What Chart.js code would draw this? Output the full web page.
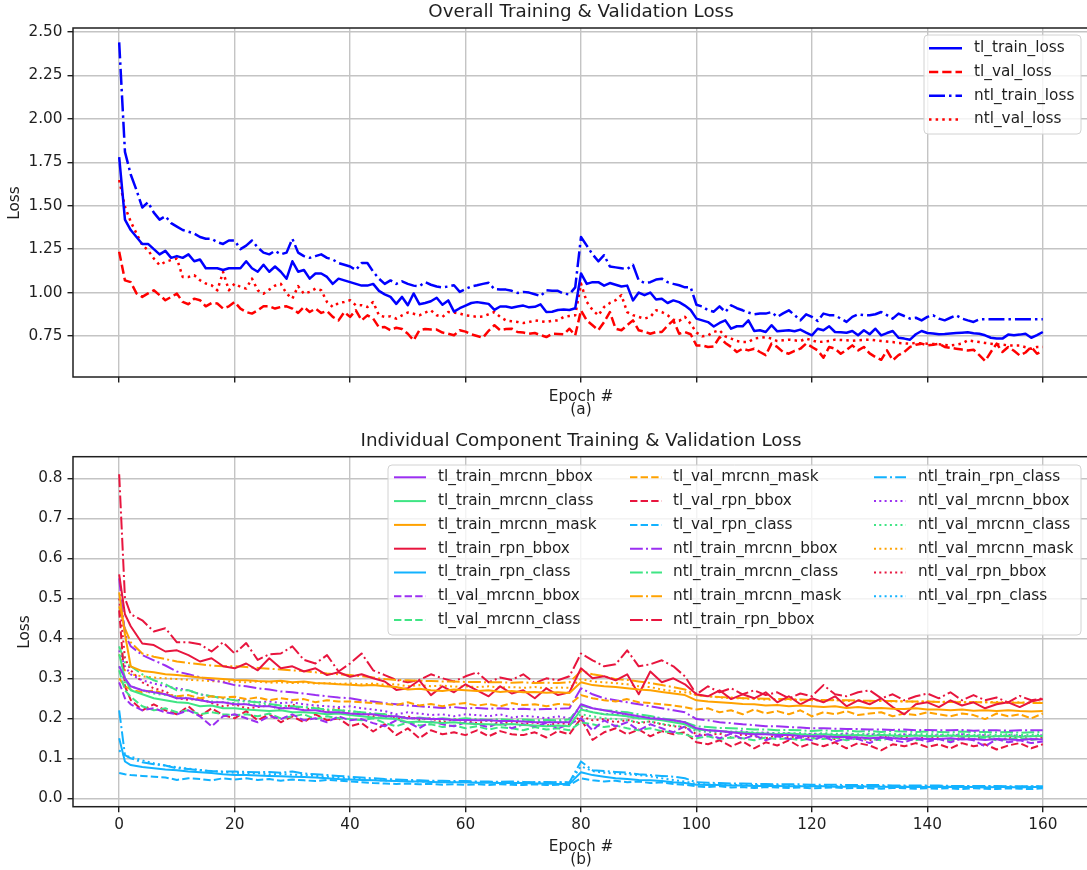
<!DOCTYPE html>
<html lang="en">
<head>
<meta charset="UTF-8">
<title>Training &amp; Validation Loss</title>
<style>
    html, body {
        margin: 0;
        padding: 0;
        background: #fff;
        overflow: hidden;
    }
    .panel { position: absolute; left: 0; }
    #panel-a { top: 0; }
    #panel-b { top: 420px; }
    canvas { display: block; }
</style>
</head>
<body>
<div class="panel" id="panel-a"><canvas id="overallChart" width="1092" height="420"></canvas></div>
<div class="panel" id="panel-b"><canvas id="componentChart" width="1092" height="450"></canvas></div>

<script src="https://cdn.jsdelivr.net/npm/chart.js@4"></script>
<script>
// ---- overall loss, one value per epoch (0..160) ----
const tlTrainLoss = [
    1.78, 1.42, 1.36, 1.32, 1.28, 1.28, 1.25, 1.22, 1.24, 1.20,
    1.21, 1.20, 1.22, 1.18, 1.19, 1.14, 1.14, 1.14, 1.13, 1.14,
    1.14, 1.14, 1.18, 1.14, 1.12, 1.16, 1.12, 1.15, 1.12, 1.08,
    1.18, 1.12, 1.13, 1.08, 1.11, 1.11, 1.09, 1.05, 1.08, 1.07,
    1.06, 1.05, 1.04, 1.04, 1.05, 1.01, 0.99, 0.975, 0.935, 0.975,
    0.927, 0.995, 0.933, 0.94, 0.95, 0.97, 0.93, 0.955, 0.89, 0.91,
    0.925, 0.94, 0.945, 0.94, 0.935, 0.90, 0.92, 0.92, 0.913, 0.92,
    0.925, 0.915, 0.918, 0.932, 0.888, 0.89, 0.90, 0.902, 0.90, 0.91,
    1.11, 1.05, 1.06, 1.06, 1.04, 1.055, 1.045, 1.035, 1.04, 0.955,
    1.00, 0.985, 1.00, 0.96, 0.965, 0.94, 0.955, 0.945, 0.925, 0.90,
    0.85, 0.84, 0.83, 0.805, 0.825, 0.84, 0.792, 0.806, 0.806, 0.84,
    0.779, 0.783, 0.773, 0.812, 0.777, 0.78, 0.783, 0.777, 0.787, 0.77,
    0.754, 0.792, 0.783, 0.806, 0.773, 0.772, 0.769, 0.779, 0.754, 0.783,
    0.76, 0.792, 0.754, 0.767, 0.779, 0.74, 0.735, 0.729, 0.76, 0.779,
    0.767, 0.765, 0.76, 0.762, 0.765, 0.767, 0.769, 0.771, 0.766, 0.763,
    0.754, 0.74, 0.735, 0.735, 0.758, 0.754, 0.758, 0.763, 0.74, 0.755,
    0.773
];
const tlValLoss = [
    1.235, 1.07, 1.06, 0.995, 0.975, 0.995, 1.013, 0.985, 0.956, 0.975,
    0.994, 0.946, 0.933, 0.965, 0.956, 0.921, 0.94, 0.937, 0.908, 0.921,
    0.946, 0.908, 0.888, 0.879, 0.898, 0.921, 0.921, 0.908, 0.917, 0.921,
    0.908, 0.883, 0.917, 0.888, 0.908, 0.883, 0.894, 0.86, 0.84, 0.888,
    0.86, 0.898, 0.84, 0.869, 0.85, 0.80, 0.802, 0.783, 0.798, 0.79,
    0.763, 0.725, 0.783, 0.79, 0.787, 0.787, 0.77, 0.763, 0.754, 0.783,
    0.775, 0.76, 0.75, 0.74, 0.78, 0.812, 0.783, 0.79, 0.792, 0.773,
    0.77, 0.763, 0.767, 0.755, 0.744, 0.763, 0.762, 0.76, 0.792, 0.754,
    0.898, 0.84, 0.812, 0.783, 0.83, 0.888, 0.792, 0.783, 0.812, 0.84,
    0.783, 0.775, 0.763, 0.773, 0.773, 0.81, 0.84, 0.763, 0.773, 0.76,
    0.696, 0.696, 0.687, 0.69, 0.744, 0.71, 0.687, 0.658, 0.677, 0.667,
    0.677, 0.658, 0.64, 0.706, 0.687, 0.658, 0.648, 0.665, 0.677, 0.706,
    0.687, 0.667, 0.625, 0.687, 0.677, 0.648, 0.67, 0.696, 0.667, 0.687,
    0.65, 0.629, 0.613, 0.667, 0.61, 0.64, 0.658, 0.687, 0.70, 0.706,
    0.696, 0.70, 0.706, 0.687, 0.682, 0.677, 0.672, 0.667, 0.671, 0.64,
    0.606, 0.658, 0.706, 0.658, 0.687, 0.665, 0.638, 0.655, 0.687, 0.648,
    0.665
];
const ntlTrainLoss = [
    2.44, 1.81, 1.68, 1.59, 1.49, 1.52, 1.46, 1.42, 1.44, 1.40,
    1.38, 1.36, 1.35, 1.34, 1.32, 1.31, 1.31, 1.29, 1.28, 1.30,
    1.30, 1.25, 1.27, 1.30, 1.26, 1.23, 1.22, 1.24, 1.22, 1.23,
    1.31, 1.23, 1.21, 1.20, 1.21, 1.22, 1.20, 1.19, 1.17, 1.16,
    1.15, 1.13, 1.17, 1.17, 1.12, 1.08, 1.05, 1.07, 1.05, 1.065,
    1.05, 1.04, 1.037, 1.06, 1.045, 1.035, 1.03, 1.035, 1.042, 1.004,
    1.02, 1.035, 1.042, 1.05, 1.056, 1.02, 1.017, 1.017, 1.01, 0.998,
    1.004, 1.0, 0.99, 0.98, 1.013, 1.01, 1.01, 0.994, 0.99, 1.03,
    1.32, 1.27, 1.22, 1.18, 1.215, 1.15, 1.145, 1.14, 1.135, 1.16,
    1.07, 1.056, 1.06, 1.075, 1.08, 1.06, 1.05, 1.042, 1.03, 1.03,
    0.93, 0.92, 0.898, 0.89, 0.921, 0.888, 0.927, 0.91, 0.898, 0.885,
    0.875, 0.879, 0.879, 0.888, 0.86, 0.88, 0.898, 0.87, 0.84, 0.875,
    0.86, 0.837, 0.879, 0.87, 0.869, 0.85, 0.831, 0.86, 0.875, 0.87,
    0.869, 0.875, 0.888, 0.87, 0.85, 0.879, 0.865, 0.85, 0.855, 0.84,
    0.86, 0.869, 0.85, 0.84, 0.855, 0.869, 0.85, 0.84, 0.831, 0.846,
    0.846, 0.846, 0.846, 0.846, 0.846, 0.846, 0.846, 0.846, 0.846, 0.846,
    0.846
];
const ntlValLoss = [
    1.648, 1.494, 1.408, 1.34, 1.273, 1.244, 1.196, 1.158, 1.177, 1.187,
    1.196, 1.09, 1.09, 1.10, 1.071, 1.052, 1.042, 1.013, 1.119, 1.013,
    1.052, 1.033, 1.023, 1.081, 1.013, 0.994, 1.017, 1.04, 1.05, 0.994,
    0.965, 1.037, 0.994, 1.004, 1.023, 1.013, 0.946, 0.917, 0.94, 0.946,
    0.956, 0.927, 0.927, 0.917, 0.946, 0.869, 0.86, 0.863, 0.85, 0.869,
    0.885, 0.878, 0.869, 0.885, 0.898, 0.869, 0.86, 0.888, 0.885, 0.879,
    0.869, 0.865, 0.86, 0.863, 0.875, 0.888, 0.86, 0.84, 0.835, 0.831,
    0.825, 0.83, 0.84, 0.835, 0.831, 0.838, 0.84, 0.86, 0.865, 0.869,
    1.052, 0.946, 0.90, 0.869, 0.917, 0.94, 0.956, 0.985, 0.888, 0.87,
    0.86, 0.85, 0.86, 0.898, 0.888, 0.87, 0.844, 0.837, 0.86, 0.82,
    0.77, 0.748, 0.754, 0.773, 0.783, 0.748, 0.735, 0.721, 0.715, 0.715,
    0.735, 0.74, 0.744, 0.735, 0.721, 0.725, 0.729, 0.725, 0.721, 0.735,
    0.725, 0.715, 0.718, 0.721, 0.729, 0.727, 0.725, 0.722, 0.725, 0.727,
    0.729, 0.725, 0.721, 0.718, 0.715, 0.71, 0.708, 0.706, 0.71, 0.708,
    0.706, 0.704, 0.702, 0.699, 0.696, 0.70, 0.706, 0.725, 0.72, 0.715,
    0.71, 0.706, 0.702, 0.70, 0.696, 0.696, 0.696, 0.685, 0.677, 0.687,
    0.687
];

// ---- component losses, sampled at epochs 0, 1, 2, 4, ..., 160 ----
const tlTrainMrcnnBbox = [0.33, 0.30,
    0.28, 0.27, 0.265, 0.26, 0.25, 0.25, 0.245, 0.24, 0.24, 0.235,
    0.235, 0.23, 0.23, 0.225, 0.225, 0.22, 0.22, 0.215, 0.215, 0.212,
    0.21, 0.21, 0.205, 0.205, 0.20, 0.20, 0.198, 0.198, 0.196, 0.196,
    0.195, 0.195, 0.193, 0.193, 0.192, 0.19, 0.19, 0.19, 0.19, 0.235,
    0.225, 0.22, 0.215, 0.21, 0.205, 0.20, 0.198, 0.195, 0.19, 0.175,
    0.17, 0.168, 0.165, 0.162, 0.16, 0.16, 0.158, 0.158, 0.156, 0.155,
    0.155, 0.153, 0.153, 0.152, 0.15, 0.152, 0.15, 0.148, 0.15, 0.148,
    0.148, 0.15, 0.147, 0.148, 0.146, 0.148, 0.147, 0.146, 0.148, 0.147];
const tlTrainMrcnnClass = [0.36, 0.30,
    0.27, 0.26, 0.25, 0.245, 0.24, 0.238, 0.23, 0.232, 0.225, 0.225,
    0.222, 0.22, 0.218, 0.22, 0.215, 0.215, 0.213, 0.21, 0.212, 0.208,
    0.205, 0.202, 0.2, 0.198, 0.19, 0.192, 0.19, 0.188, 0.19, 0.187,
    0.186, 0.185, 0.184, 0.186, 0.183, 0.182, 0.18, 0.182, 0.18, 0.222,
    0.215, 0.21, 0.208, 0.205, 0.2, 0.198, 0.195, 0.19, 0.185, 0.172,
    0.17, 0.168, 0.166, 0.165, 0.163, 0.162, 0.16, 0.162, 0.16, 0.158,
    0.16, 0.158, 0.157, 0.158, 0.156, 0.158, 0.157, 0.155, 0.157, 0.156,
    0.155, 0.157, 0.155, 0.156, 0.154, 0.155, 0.156, 0.154, 0.155, 0.156];
const tlTrainMrcnnMask = [0.515, 0.41,
    0.33, 0.318, 0.315, 0.31, 0.308, 0.305, 0.302, 0.30, 0.298, 0.296,
    0.295, 0.293, 0.292, 0.294, 0.29, 0.292, 0.288, 0.287, 0.285, 0.284,
    0.282, 0.283, 0.28, 0.278, 0.272, 0.274, 0.27, 0.268, 0.272, 0.27,
    0.268, 0.27, 0.266, 0.268, 0.265, 0.266, 0.264, 0.265, 0.263, 0.29,
    0.283, 0.28, 0.278, 0.275, 0.272, 0.27, 0.266, 0.262, 0.258, 0.245,
    0.242, 0.24, 0.238, 0.236, 0.235, 0.232, 0.233, 0.23, 0.232, 0.23,
    0.228, 0.23, 0.226, 0.228, 0.225, 0.226, 0.224, 0.223, 0.225, 0.222,
    0.222, 0.22, 0.222, 0.219, 0.22, 0.218, 0.22, 0.218, 0.217, 0.218];
const tlTrainRpnBbox = [0.56, 0.46,
    0.43, 0.387, 0.383, 0.367, 0.37, 0.358, 0.342, 0.35, 0.33, 0.325,
    0.337, 0.32, 0.35, 0.325, 0.33, 0.317, 0.325, 0.308, 0.315, 0.304,
    0.31, 0.30, 0.292, 0.271, 0.275, 0.295, 0.258, 0.28, 0.265, 0.285,
    0.27, 0.255, 0.28, 0.262, 0.27, 0.25, 0.275, 0.258, 0.265, 0.325,
    0.30, 0.305, 0.295, 0.31, 0.26, 0.317, 0.29, 0.30, 0.285, 0.26,
    0.255, 0.27, 0.248, 0.26, 0.25, 0.265, 0.24, 0.255, 0.235, 0.25,
    0.24, 0.255, 0.23, 0.245, 0.235, 0.25, 0.228, 0.21, 0.235, 0.24,
    0.228, 0.245, 0.232, 0.24, 0.225, 0.235, 0.24, 0.228, 0.242, 0.248];
const tlTrainRpnClass = [0.15, 0.092,
    0.083, 0.078, 0.075, 0.072, 0.07, 0.067, 0.065, 0.063, 0.06, 0.058,
    0.058, 0.057, 0.056, 0.055, 0.054, 0.053, 0.052, 0.05, 0.048, 0.047,
    0.046, 0.045, 0.044, 0.043, 0.042, 0.042, 0.041, 0.04, 0.04, 0.04,
    0.039, 0.039, 0.038, 0.038, 0.038, 0.037, 0.037, 0.036, 0.036, 0.065,
    0.058, 0.054, 0.05, 0.048, 0.046, 0.045, 0.043, 0.04, 0.038, 0.034,
    0.033, 0.033, 0.032, 0.032, 0.031, 0.031, 0.031, 0.03, 0.03, 0.03,
    0.03, 0.029, 0.029, 0.03, 0.029, 0.029, 0.028, 0.029, 0.028, 0.028,
    0.028, 0.029, 0.028, 0.028, 0.027, 0.028, 0.028, 0.027, 0.028, 0.028];
const tlValMrcnnBbox = [0.29, 0.25,
    0.235, 0.22, 0.225, 0.215, 0.21, 0.22, 0.205, 0.18, 0.205, 0.21,
    0.2, 0.19, 0.205, 0.198, 0.21, 0.195, 0.2, 0.19, 0.205, 0.195,
    0.198, 0.188, 0.18, 0.195, 0.19, 0.175, 0.192, 0.185, 0.18, 0.19,
    0.185, 0.178, 0.19, 0.175, 0.185, 0.18, 0.188, 0.175, 0.185, 0.2,
    0.17, 0.195, 0.18, 0.19, 0.17, 0.185, 0.175, 0.165, 0.18, 0.155,
    0.16, 0.15, 0.162, 0.148, 0.158, 0.145, 0.155, 0.148, 0.152, 0.145,
    0.155, 0.142, 0.15, 0.148, 0.138, 0.152, 0.145, 0.14, 0.15, 0.142,
    0.148, 0.14, 0.15, 0.145, 0.13, 0.148, 0.14, 0.145, 0.138, 0.142];
const tlValMrcnnClass = [0.32, 0.27,
    0.254, 0.23, 0.22, 0.225, 0.215, 0.22, 0.21, 0.215, 0.21, 0.208,
    0.21, 0.205, 0.212, 0.2, 0.205, 0.21, 0.198, 0.205, 0.2, 0.198,
    0.195, 0.2, 0.188, 0.18, 0.19, 0.182, 0.185, 0.178, 0.182, 0.175,
    0.18, 0.172, 0.178, 0.175, 0.17, 0.178, 0.172, 0.175, 0.17, 0.19,
    0.185, 0.178, 0.182, 0.175, 0.17, 0.175, 0.168, 0.165, 0.16, 0.15,
    0.155, 0.148, 0.152, 0.15, 0.145, 0.152, 0.148, 0.15, 0.145, 0.15,
    0.148, 0.152, 0.145, 0.15, 0.148, 0.145, 0.152, 0.148, 0.145, 0.15,
    0.148, 0.145, 0.15, 0.148, 0.152, 0.145, 0.148, 0.15, 0.146, 0.15];
const tlValMrcnnMask = [0.30, 0.28,
    0.272, 0.265, 0.27, 0.26, 0.255, 0.258, 0.25, 0.255, 0.252, 0.254,
    0.248, 0.252, 0.245, 0.25, 0.246, 0.248, 0.24, 0.245, 0.242, 0.242,
    0.24, 0.238, 0.236, 0.233, 0.24, 0.232, 0.236, 0.23, 0.235, 0.238,
    0.232, 0.236, 0.23, 0.238, 0.233, 0.235, 0.23, 0.236, 0.234, 0.258,
    0.25, 0.245, 0.242, 0.248, 0.24, 0.238, 0.235, 0.232, 0.228, 0.222,
    0.225, 0.215, 0.22, 0.21, 0.222, 0.212, 0.218, 0.21, 0.22, 0.205,
    0.215, 0.21, 0.218, 0.208, 0.212, 0.215, 0.205, 0.212, 0.208, 0.215,
    0.21, 0.205, 0.212, 0.208, 0.198, 0.212, 0.205, 0.21, 0.2, 0.212];
const tlValRpnBbox = [0.47, 0.28,
    0.246, 0.22, 0.235, 0.22, 0.21, 0.23, 0.205, 0.225, 0.208, 0.20,
    0.218, 0.195, 0.21, 0.19, 0.205, 0.19, 0.21, 0.195, 0.2, 0.18,
    0.188, 0.167, 0.185, 0.158, 0.175, 0.15, 0.17, 0.16, 0.165, 0.158,
    0.17, 0.155, 0.168, 0.16, 0.158, 0.165, 0.152, 0.168, 0.16, 0.2,
    0.146, 0.165, 0.175, 0.16, 0.172, 0.155, 0.168, 0.16, 0.165, 0.14,
    0.135, 0.145, 0.13, 0.142, 0.125, 0.14, 0.132, 0.145, 0.128, 0.138,
    0.13, 0.14, 0.125, 0.138, 0.132, 0.12, 0.135, 0.13, 0.138, 0.128,
    0.135, 0.125, 0.138, 0.13, 0.135, 0.122, 0.132, 0.138, 0.125, 0.135];
const tlValRpnClass = [0.063, 0.06,
    0.058, 0.056, 0.054, 0.052, 0.046, 0.05, 0.048, 0.045, 0.05, 0.047,
    0.05, 0.046, 0.048, 0.044, 0.047, 0.045, 0.043, 0.046, 0.044, 0.042,
    0.04, 0.038, 0.037, 0.036, 0.037, 0.035, 0.036, 0.034, 0.035, 0.034,
    0.035, 0.033, 0.035, 0.034, 0.033, 0.035, 0.033, 0.034, 0.033, 0.05,
    0.045, 0.042, 0.044, 0.04, 0.042, 0.038, 0.04, 0.036, 0.034, 0.03,
    0.028, 0.03, 0.027, 0.028, 0.026, 0.028, 0.027, 0.026, 0.027, 0.025,
    0.026, 0.027, 0.025, 0.026, 0.025, 0.024, 0.026, 0.025, 0.024, 0.025,
    0.024, 0.025, 0.023, 0.025, 0.024, 0.023, 0.025, 0.024, 0.023, 0.025];
const ntlTrainMrcnnBbox = [0.55, 0.41,
    0.38, 0.358, 0.345, 0.332, 0.317, 0.31, 0.303, 0.296, 0.29, 0.283,
    0.28, 0.275, 0.272, 0.267, 0.265, 0.262, 0.258, 0.255, 0.252, 0.25,
    0.245, 0.242, 0.238, 0.235, 0.232, 0.23, 0.228, 0.226, 0.228, 0.225,
    0.226, 0.224, 0.225, 0.223, 0.224, 0.222, 0.223, 0.224, 0.225, 0.275,
    0.26, 0.25, 0.245, 0.24, 0.235, 0.23, 0.225, 0.22, 0.215, 0.198,
    0.195, 0.19, 0.188, 0.185, 0.183, 0.18, 0.18, 0.178, 0.177, 0.175,
    0.175, 0.174, 0.173, 0.173, 0.172, 0.172, 0.171, 0.172, 0.17, 0.171,
    0.17, 0.17, 0.171, 0.169, 0.17, 0.17, 0.169, 0.17, 0.17, 0.17];
const ntlTrainMrcnnClass = [0.38, 0.34,
    0.33, 0.31, 0.295, 0.285, 0.27, 0.27, 0.26, 0.255, 0.25, 0.245,
    0.242, 0.24, 0.236, 0.232, 0.23, 0.228, 0.225, 0.222, 0.22, 0.218,
    0.215, 0.212, 0.21, 0.205, 0.2, 0.202, 0.198, 0.2, 0.197, 0.2,
    0.198, 0.196, 0.198, 0.195, 0.197, 0.195, 0.196, 0.195, 0.197, 0.232,
    0.225, 0.22, 0.218, 0.215, 0.21, 0.206, 0.2, 0.196, 0.19, 0.18,
    0.178, 0.176, 0.175, 0.174, 0.172, 0.172, 0.17, 0.171, 0.17, 0.168,
    0.17, 0.168, 0.169, 0.167, 0.168, 0.166, 0.168, 0.167, 0.166, 0.167,
    0.166, 0.165, 0.167, 0.165, 0.166, 0.165, 0.166, 0.164, 0.165, 0.166];
const ntlTrainMrcnnMask = [0.48, 0.425,
    0.39, 0.362, 0.354, 0.348, 0.342, 0.338, 0.335, 0.332, 0.33, 0.33,
    0.328, 0.326, 0.324, 0.322, 0.32, 0.318, 0.315, 0.312, 0.31, 0.308,
    0.305, 0.302, 0.298, 0.296, 0.295, 0.294, 0.293, 0.292, 0.292, 0.291,
    0.291, 0.29, 0.29, 0.289, 0.29, 0.288, 0.289, 0.288, 0.29, 0.318,
    0.31, 0.305, 0.298, 0.296, 0.292, 0.288, 0.283, 0.278, 0.272, 0.258,
    0.255, 0.253, 0.252, 0.25, 0.25, 0.249, 0.248, 0.248, 0.247, 0.246,
    0.246, 0.245, 0.245, 0.244, 0.244, 0.243, 0.243, 0.242, 0.242, 0.242,
    0.241, 0.241, 0.24, 0.24, 0.24, 0.239, 0.239, 0.239, 0.238, 0.238];
const ntlTrainRpnBbox = [0.81, 0.50,
    0.46, 0.445, 0.417, 0.425, 0.39, 0.39, 0.385, 0.367, 0.39, 0.362,
    0.388, 0.346, 0.36, 0.362, 0.38, 0.346, 0.337, 0.358, 0.317, 0.337,
    0.362, 0.32, 0.308, 0.296, 0.29, 0.296, 0.31, 0.30, 0.292, 0.305,
    0.315, 0.29, 0.302, 0.296, 0.31, 0.288, 0.30, 0.295, 0.305, 0.362,
    0.345, 0.33, 0.335, 0.37, 0.33, 0.335, 0.345, 0.33, 0.305, 0.26,
    0.28, 0.265, 0.275, 0.26, 0.27, 0.258, 0.265, 0.25, 0.262, 0.255,
    0.283, 0.26, 0.255, 0.265, 0.27, 0.25, 0.26, 0.245, 0.255, 0.262,
    0.25, 0.265, 0.245, 0.258, 0.245, 0.252, 0.24, 0.256, 0.245, 0.25];
const ntlTrainRpnClass = [0.22, 0.108,
    0.10, 0.09, 0.085, 0.082, 0.075, 0.073, 0.07, 0.068, 0.067, 0.067,
    0.066, 0.065, 0.066, 0.064, 0.067, 0.062, 0.06, 0.058, 0.056, 0.054,
    0.052, 0.05, 0.048, 0.047, 0.046, 0.045, 0.044, 0.044, 0.043, 0.043,
    0.042, 0.042, 0.041, 0.042, 0.041, 0.04, 0.041, 0.04, 0.04, 0.092,
    0.07, 0.068, 0.066, 0.064, 0.06, 0.058, 0.056, 0.054, 0.05, 0.04,
    0.039, 0.038, 0.037, 0.037, 0.036, 0.036, 0.035, 0.035, 0.035, 0.034,
    0.034, 0.034, 0.033, 0.033, 0.033, 0.033, 0.032, 0.032, 0.032, 0.032,
    0.032, 0.031, 0.031, 0.031, 0.031, 0.031, 0.03, 0.03, 0.03, 0.03];
const ntlValMrcnnBbox = [0.37, 0.33,
    0.31, 0.295, 0.287, 0.28, 0.275, 0.27, 0.26, 0.255, 0.25, 0.246,
    0.245, 0.24, 0.242, 0.238, 0.24, 0.235, 0.232, 0.23, 0.228, 0.23,
    0.225, 0.222, 0.218, 0.21, 0.215, 0.212, 0.208, 0.21, 0.205, 0.21,
    0.208, 0.205, 0.21, 0.202, 0.206, 0.204, 0.2, 0.205, 0.2, 0.225,
    0.215, 0.21, 0.212, 0.205, 0.2, 0.205, 0.198, 0.195, 0.19, 0.172,
    0.17, 0.168, 0.165, 0.168, 0.162, 0.165, 0.16, 0.163, 0.158, 0.162,
    0.16, 0.158, 0.162, 0.156, 0.16, 0.158, 0.155, 0.16, 0.157, 0.155,
    0.158, 0.155, 0.16, 0.156, 0.158, 0.154, 0.158, 0.156, 0.155, 0.158];
const ntlValMrcnnClass = [0.33, 0.29,
    0.28, 0.27, 0.262, 0.258, 0.255, 0.25, 0.245, 0.242, 0.24, 0.238,
    0.236, 0.234, 0.232, 0.23, 0.228, 0.228, 0.225, 0.222, 0.22, 0.218,
    0.215, 0.21, 0.204, 0.2, 0.2, 0.198, 0.2, 0.196, 0.198, 0.195,
    0.196, 0.194, 0.196, 0.193, 0.195, 0.192, 0.194, 0.193, 0.192, 0.21,
    0.205, 0.2, 0.198, 0.195, 0.19, 0.192, 0.186, 0.182, 0.178, 0.168,
    0.166, 0.165, 0.167, 0.163, 0.165, 0.162, 0.164, 0.162, 0.163, 0.16,
    0.163, 0.161, 0.162, 0.16, 0.162, 0.16, 0.161, 0.159, 0.161, 0.16,
    0.16, 0.159, 0.161, 0.158, 0.16, 0.159, 0.16, 0.158, 0.159, 0.16];
const ntlValMrcnnMask = [0.36, 0.32,
    0.31, 0.305, 0.302, 0.3, 0.298, 0.296, 0.295, 0.293, 0.292, 0.292,
    0.29, 0.292, 0.289, 0.29, 0.288, 0.29, 0.287, 0.288, 0.286, 0.287,
    0.285, 0.287, 0.284, 0.285, 0.28, 0.283, 0.28, 0.282, 0.279, 0.28,
    0.278, 0.28, 0.277, 0.278, 0.276, 0.278, 0.275, 0.277, 0.276, 0.298,
    0.292, 0.29, 0.288, 0.285, 0.28, 0.278, 0.272, 0.268, 0.265, 0.258,
    0.255, 0.252, 0.25, 0.25, 0.248, 0.247, 0.246, 0.247, 0.245, 0.245,
    0.244, 0.246, 0.243, 0.245, 0.242, 0.244, 0.242, 0.243, 0.241, 0.242,
    0.241, 0.242, 0.24, 0.241, 0.24, 0.241, 0.239, 0.24, 0.239, 0.24];
const ntlValRpnBbox = [0.50, 0.35,
    0.32, 0.29, 0.275, 0.267, 0.25, 0.246, 0.25, 0.238, 0.23, 0.235,
    0.225, 0.228, 0.232, 0.222, 0.235, 0.22, 0.228, 0.218, 0.225, 0.21,
    0.215, 0.205, 0.21, 0.198, 0.205, 0.196, 0.2, 0.19, 0.198, 0.192,
    0.188, 0.195, 0.185, 0.192, 0.186, 0.19, 0.182, 0.188, 0.185, 0.205,
    0.195, 0.198, 0.19, 0.196, 0.188, 0.192, 0.185, 0.18, 0.178, 0.16,
    0.158, 0.162, 0.152, 0.16, 0.155, 0.15, 0.158, 0.152, 0.156, 0.15,
    0.155, 0.148, 0.156, 0.15, 0.145, 0.155, 0.15, 0.152, 0.146, 0.155,
    0.15, 0.145, 0.152, 0.148, 0.155, 0.146, 0.15, 0.153, 0.147, 0.152];
const ntlValRpnClass = [0.12, 0.105,
    0.104, 0.095, 0.0875, 0.082, 0.078, 0.074, 0.071, 0.068, 0.066, 0.064,
    0.062, 0.063, 0.06, 0.061, 0.059, 0.058, 0.056, 0.054, 0.052, 0.05,
    0.048, 0.046, 0.045, 0.044, 0.043, 0.042, 0.042, 0.041, 0.041, 0.04,
    0.04, 0.041, 0.039, 0.04, 0.039, 0.04, 0.039, 0.04, 0.039, 0.08,
    0.068, 0.064, 0.062, 0.06, 0.058, 0.055, 0.05, 0.046, 0.042, 0.036,
    0.035, 0.034, 0.034, 0.033, 0.033, 0.032, 0.032, 0.032, 0.031, 0.031,
    0.031, 0.031, 0.03, 0.031, 0.03, 0.03, 0.03, 0.03, 0.029, 0.03,
    0.03, 0.029, 0.03, 0.029, 0.029, 0.03, 0.029, 0.029, 0.03, 0.029];

// axis ticks
const epochTicks = [0, 20, 40, 60, 80, 100, 120, 140, 160];
const lossTicksA = [0.75, 1.00, 1.25, 1.50, 1.75, 2.00, 2.25, 2.50];
const lossTicksB = [0.0, 0.1, 0.2, 0.3, 0.4, 0.5, 0.6, 0.7, 0.8];

// epoch indices for the two panels
const epochsA = tlTrainLoss.map((_, i) => i);
const epochsB = [0, 1];
for (let e = 2; e <= 160; e += 2) epochsB.push(e);

Chart.defaults.font.family = '"DejaVu Sans", sans-serif';
Chart.defaults.font.size = 15.3;
Chart.defaults.color = '#1a1a1a';

const GRID = '#c4c4c4';
const INK = '#1f1f1f';
const FONT = '15.3px "DejaVu Sans", sans-serif';
const TITLE_FONT = '18.3px "DejaVu Sans", sans-serif';

function dashes(lw) {
    return {
        solid: [],
        dashed: [3.7 * lw, 1.6 * lw],
        dashdot: [6.4 * lw, 1.6 * lw, 1.0 * lw, 1.6 * lw],
        dotted: [1.0 * lw, 1.65 * lw]
    };
}

function makeSet(label, xs, ys, color, style, lw) {
    return {
        label: label,
        data: ys.map((v, i) => ({ x: xs[i], y: v })),
        borderColor: color,
        borderWidth: lw,
        borderDash: dashes(lw)[style],
        borderCapStyle: 'butt',
        borderJoinStyle: 'round',
        pointRadius: 0,
        tension: 0,
        fill: false
    };
}

function xAxis(showLabels, height) {
    return {
        type: 'linear',
        min: -8,
        max: 168,
        afterBuildTicks: s => { s.ticks = epochTicks.map(v => ({ value: v })); },
        afterFit: s => { s.height = height; },
        grid: { color: GRID, lineWidth: 1.4, tickColor: INK, tickLength: 5.5 },
        border: { display: false },
        ticks: { display: showLabels, color: INK, padding: 3.5, autoSkip: false, maxRotation: 0 }
    };
}

function yAxis(min, max, ticks, digits) {
    return {
        type: 'linear',
        min: min,
        max: max,
        afterBuildTicks: s => { s.ticks = ticks.map(v => ({ value: v })); },
        afterFit: s => { s.width = 73; },
        grid: { color: GRID, lineWidth: 1.4, tickColor: INK, tickLength: 5.5 },
        border: { display: false },
        ticks: { color: INK, padding: 5, callback: v => v.toFixed(digits) }
    };
}

// spines, titles, axis labels and the boxed legend
function decorations(cfg) {
    return {
        id: 'decorations',
        afterDatasetsDraw(chart) {
            const ctx = chart.ctx;
            const a = chart.chartArea;
            ctx.save();
            ctx.strokeStyle = INK;
            ctx.lineWidth = 1.5;
            ctx.setLineDash([]);
            ctx.strokeRect(a.left, a.top, a.right - a.left, a.bottom - a.top);

            const lg = cfg.legend;
            ctx.beginPath();
            ctx.roundRect(lg.x, lg.y, lg.w, lg.h, 4);
            ctx.fillStyle = 'rgba(255,255,255,0.8)';
            ctx.fill();
            ctx.strokeStyle = '#d2d2d2';
            ctx.lineWidth = 1;
            ctx.stroke();

            ctx.font = FONT;
            ctx.textAlign = 'left';
            ctx.textBaseline = 'middle';
            chart.data.datasets.forEach((ds, i) => {
                const col = lg.cols[Math.floor(i / lg.rows)];
                const y = lg.rowY + (i % lg.rows) * lg.rowStep;
                ctx.strokeStyle = ds.borderColor;
                ctx.lineWidth = ds.borderWidth;
                ctx.lineCap = 'butt';
                ctx.setLineDash(ds.borderDash);
                ctx.beginPath();
                ctx.moveTo(col.line, y);
                ctx.lineTo(col.line + lg.lineLen, y);
                ctx.stroke();
                ctx.setLineDash([]);
                ctx.fillStyle = INK;
                ctx.fillText(ds.label, col.text, y);
            });
            ctx.restore();
        },
        afterDraw(chart) {
            const ctx = chart.ctx;
            ctx.save();
            ctx.fillStyle = INK;
            ctx.textAlign = 'center';
            ctx.textBaseline = 'middle';
            ctx.font = TITLE_FONT;
            ctx.fillText(cfg.title, 581, cfg.titleY);
            ctx.font = FONT;
            ctx.fillText('Epoch #', 581, cfg.xLabelY);
            ctx.fillText(cfg.tag, 581, cfg.xLabelY + 13.5);
            ctx.translate(cfg.yLabelX, cfg.yLabelY);
            ctx.rotate(-Math.PI / 2);
            ctx.fillText('Loss', 0, 0);
            ctx.restore();
        }
    };
}

const LW_A = 2.5;
const overallSets = [
    makeSet('tl_train_loss', epochsA, tlTrainLoss, '#0000ff', 'solid', LW_A),
    makeSet('tl_val_loss', epochsA, tlValLoss, '#ff0000', 'dashed', LW_A),
    makeSet('ntl_train_loss', epochsA, ntlTrainLoss, '#0000ff', 'dashdot', LW_A),
    makeSet('ntl_val_loss', epochsA, ntlValLoss, '#ff0000', 'dotted', LW_A)
];

new Chart(document.getElementById('overallChart'), {
    type: 'line',
    data: { datasets: overallSets },
    options: {
        responsive: false,
        animation: false,
        events: [],
        layout: { autoPadding: false, padding: { left: 0, top: 28, right: 3, bottom: 0 } },
        scales: {
            x: xAxis(false, 43),
            y: yAxis(0.514, 2.523, lossTicksA, 2)
        },
        plugins: { legend: { display: false }, tooltip: { enabled: false } }
    },
    plugins: [decorations({
        title: 'Overall Training & Validation Loss', titleY: 12.5,
        xLabelY: 397, tag: '(a)', yLabelX: 15, yLabelY: 203,
        legend: { x: 924, y: 35, w: 157, h: 99, rows: 4, rowY: 48.3, rowStep: 23.7, lineLen: 33,
                  cols: [{ line: 929, text: 974 }] }
    })]
});

const PURPLE = '#9b2ff2';
const GREEN = '#3fe584';
const ORANGE = '#ffa200';
const CRIMSON = '#e8153e';
const SKY = '#12b2ff';
const LW_B = 2.0;

const componentSets = [
    makeSet('tl_train_mrcnn_bbox', epochsB, tlTrainMrcnnBbox, PURPLE, 'solid', LW_B),
    makeSet('tl_train_mrcnn_class', epochsB, tlTrainMrcnnClass, GREEN, 'solid', LW_B),
    makeSet('tl_train_mrcnn_mask', epochsB, tlTrainMrcnnMask, ORANGE, 'solid', LW_B),
    makeSet('tl_train_rpn_bbox', epochsB, tlTrainRpnBbox, CRIMSON, 'solid', LW_B),
    makeSet('tl_train_rpn_class', epochsB, tlTrainRpnClass, SKY, 'solid', LW_B),
    makeSet('tl_val_mrcnn_bbox', epochsB, tlValMrcnnBbox, PURPLE, 'dashed', LW_B),
    makeSet('tl_val_mrcnn_class', epochsB, tlValMrcnnClass, GREEN, 'dashed', LW_B),
    makeSet('tl_val_mrcnn_mask', epochsB, tlValMrcnnMask, ORANGE, 'dashed', LW_B),
    makeSet('tl_val_rpn_bbox', epochsB, tlValRpnBbox, CRIMSON, 'dashed', LW_B),
    makeSet('tl_val_rpn_class', epochsB, tlValRpnClass, SKY, 'dashed', LW_B),
    makeSet('ntl_train_mrcnn_bbox', epochsB, ntlTrainMrcnnBbox, PURPLE, 'dashdot', LW_B),
    makeSet('ntl_train_mrcnn_class', epochsB, ntlTrainMrcnnClass, GREEN, 'dashdot', LW_B),
    makeSet('ntl_train_mrcnn_mask', epochsB, ntlTrainMrcnnMask, ORANGE, 'dashdot', LW_B),
    makeSet('ntl_train_rpn_bbox', epochsB, ntlTrainRpnBbox, CRIMSON, 'dashdot', LW_B),
    makeSet('ntl_train_rpn_class', epochsB, ntlTrainRpnClass, SKY, 'dashdot', LW_B),
    makeSet('ntl_val_mrcnn_bbox', epochsB, ntlValMrcnnBbox, PURPLE, 'dotted', LW_B),
    makeSet('ntl_val_mrcnn_class', epochsB, ntlValMrcnnClass, GREEN, 'dotted', LW_B),
    makeSet('ntl_val_mrcnn_mask', epochsB, ntlValMrcnnMask, ORANGE, 'dotted', LW_B),
    makeSet('ntl_val_rpn_bbox', epochsB, ntlValRpnBbox, CRIMSON, 'dotted', LW_B),
    makeSet('ntl_val_rpn_class', epochsB, ntlValRpnClass, SKY, 'dotted', LW_B)
];

new Chart(document.getElementById('componentChart'), {
    type: 'line',
    data: { datasets: componentSets },
    options: {
        responsive: false,
        animation: false,
        events: [],
        layout: { autoPadding: false, padding: { left: 0, top: 36.7, right: 3, bottom: 0 } },
        scales: {
            x: xAxis(true, 63.3),
            y: yAxis(-0.021, 0.854, lossTicksB, 1)
        },
        plugins: { legend: { display: false }, tooltip: { enabled: false } }
    },
    plugins: [decorations({
        title: 'Individual Component Training & Validation Loss', titleY: 21,
        xLabelY: 426.7, tag: '(b)', yLabelX: 25, yLabelY: 212,
        legend: { x: 388, y: 45, w: 693, h: 170, rows: 7, rowY: 57.3, rowStep: 23.8, lineLen: 32,
                  cols: [{ line: 394, text: 438 }, { line: 630, text: 673 }, { line: 874, text: 918 }] }
    })]
});
</script>
</body>
</html>
